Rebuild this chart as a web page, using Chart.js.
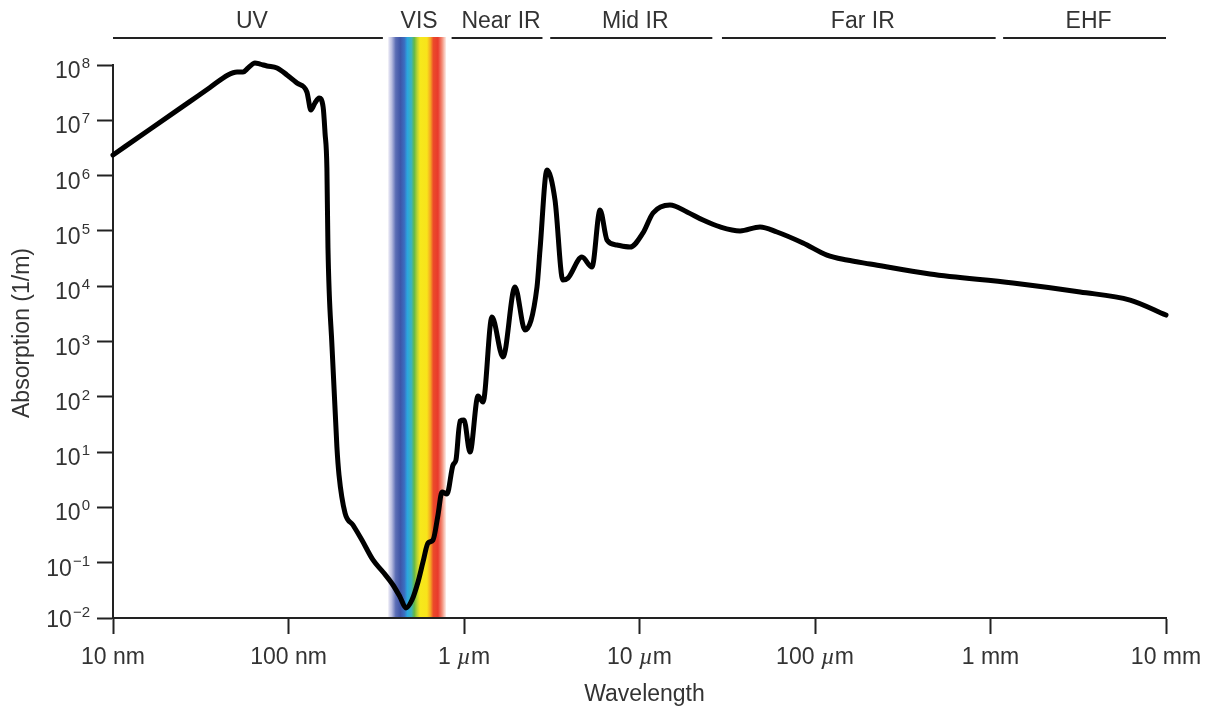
<!DOCTYPE html>
<html lang="en">
<head>
<meta charset="UTF-8">
<title>Absorption spectrum of liquid water</title>
<script src="https://cdn.jsdelivr.net/npm/chart.js"></script>
<style>
  body { margin: 0; background: #fff; }
  #wrap { width: 1217px; height: 713px; }
</style>
</head>
<body>
<div id="wrap"><canvas id="absChart" width="1217" height="713"></canvas></div>
<script>
// wavelength in metres, absorption in 1/m
const wavelength = [
  1.0e-8, 1.625e-8, 2.75e-8, 3.57e-8, 4.52e-8, 5.09e-8, 5.51e-8, 5.88e-8, 6.44e-8, 6.89e-8, 7.54e-8, 8.6e-8, 9.8e-8,
  1.117e-7, 1.273e-7, 1.342e-7, 1.416e-7, 1.494e-7, 1.575e-7, 1.615e-7, 1.655e-7, 1.678e-7, 1.77e-7,
  1.887e-7, 1.94e-7, 2.1e-7, 2.33e-7, 2.62e-7, 3.03e-7, 3.455e-7, 3.94e-7, 4.32e-7, 4.67e-7,
  5.05e-7, 5.47e-7, 5.84e-7, 6.24e-7, 6.66e-7, 7.11e-7, 7.49e-7, 8.0e-7, 8.66e-7, 9.0e-7,
  9.49e-7, 1.0e-6, 1.082e-6, 1.202e-6, 1.283e-6, 1.443e-6, 1.668e-6, 1.953e-6, 2.226e-6, 2.606e-6,
  2.71e-6, 2.97e-6, 3.30e-6, 3.66e-6, 3.91e-6, 4.70e-6, 5.36e-6, 5.96e-6, 6.53e-6, 7.44e-6,
  8.83e-6, 1.047e-5, 1.194e-5, 1.492e-5, 1.865e-5, 2.30e-5, 2.88e-5, 3.74e-5, 4.86e-5, 6.07e-5,
  8.54e-5, 1.17e-4, 1.52e-4, 2.06e-4, 4.52e-4, 1.343e-3, 3.24e-3, 6.24e-3, 1.0e-2
];
const absorption = [
  2.36e6, 6.87e6, 2.2e7, 3.92e7, 6.6e7, 7.47e7, 7.47e7, 8.83e7, 1.09e8, 1.04e8, 9.6e7, 8.83e7, 6.6e7,
  4.72e7, 3.25e7, 1.53e7, 2.06e7, 2.53e7, 1.74e7, 5.9e6, 1.37e6, 5.1e4, 796,
  12.4, 3.86, 0.79, 0.48, 0.257, 0.112, 0.068, 0.0395, 0.024, 0.0152,
  0.0211, 0.0448, 0.103, 0.227, 0.257, 0.73, 1.9, 1.75, 5.85, 7.2,
  36.5, 38, 10.0, 103, 80.5, 2770, 525, 9690, 1615, 9690,
  4.5e4, 1.26e6, 3.62e5, 1.29e4, 1.4e4, 3.37e4, 2.22e4, 2.39e5, 6.84e4, 5.56e4,
  5.1e4, 9.2e4, 2.11e5, 2.94e5, 2.2e5, 1.57e5, 1.18e5, 9.96e4, 1.18e5, 9.55e4,
  6.04e4, 3.66e4, 2.98e4, 2.52e4, 1.66e4, 1.14e4, 7850, 5620, 3010
];

const xTicks = [1e-8, 1e-7, 1e-6, 1e-5, 1e-4, 1e-3, 1e-2];
const xTickLabels = ['10 nm', '100 nm', '1 µm', '10 µm', '100 µm', '1 mm', '10 mm'];
const yTicks = [1e-2, 1e-1, 1e0, 1e1, 1e2, 1e3, 1e4, 1e5, 1e6, 1e7, 1e8];

// spectral regions along the top
const regionNames = ['UV', 'VIS', 'Near IR', 'Mid IR', 'Far IR', 'EHF'];
const regionStart = [1e-8, 3.7e-7, 8.5e-7, 3.1e-6, 2.95e-5, 1.18e-3];
const regionEnd = [3.45e-7, 7.9e-7, 2.8e-6, 2.6e-5, 1.07e-3, 1e-2];
const visBand = [3.7e-7, 7.9e-7];

const textColor = '#333';
const axisColor = '#222';
const FONT = '"Liberation Sans", Arial, sans-serif';

const decorations = {
  id: 'decorations',
  beforeDatasetsDraw(chart) {
    const { ctx, chartArea, scales: { x } } = chart;
    const x0 = x.getPixelForValue(visBand[0]);
    const x1 = x.getPixelForValue(visBand[1]);
    const top = chartArea.top - 28;
    const g = ctx.createLinearGradient(x0, 0, x1, 0);
    g.addColorStop(0.00, '#ecebf6');
    g.addColorStop(0.06, '#b9bde0');
    g.addColorStop(0.13, '#5b6db5');
    g.addColorStop(0.21, '#3e55a7');
    g.addColorStop(0.28, '#3b6fc2');
    g.addColorStop(0.33, '#2ba6df');
    g.addColorStop(0.40, '#3cb3bd');
    g.addColorStop(0.45, '#63b847');
    g.addColorStop(0.50, '#b7d332');
    g.addColorStop(0.55, '#f6e81c');
    g.addColorStop(0.67, '#f8e41a');
    g.addColorStop(0.73, '#f5a623');
    g.addColorStop(0.78, '#ec4a2a');
    g.addColorStop(0.86, '#e83a2c');
    g.addColorStop(0.93, '#f38b75');
    g.addColorStop(1.00, '#fdeee8');
    ctx.save();
    ctx.fillStyle = g;
    ctx.fillRect(x0, top, x1 - x0, chartArea.bottom - 1 - top);
    ctx.restore();
  },
  afterDraw(chart) {
    const { ctx, chartArea, scales: { x, y } } = chart;
    ctx.save();
    ctx.fillStyle = textColor;

    // region brackets + names
    const lineY = chartArea.top - 27;
    ctx.strokeStyle = axisColor;
    ctx.lineWidth = 2;
    regionNames.forEach((name, i) => {
      const a = x.getPixelForValue(regionStart[i]);
      const b = x.getPixelForValue(regionEnd[i]);
      if (name !== 'VIS') {
        ctx.beginPath();
        ctx.moveTo(a, lineY);
        ctx.lineTo(b, lineY);
        ctx.stroke();
      }
      ctx.font = '23px ' + FONT;
      ctx.textAlign = 'center';
      ctx.textBaseline = 'middle';
      ctx.fillText(name, (a + b) / 2 + (name === 'VIS' ? 2 : 4), chartArea.top - 43);
    });

    // y tick labels as 10 with superscript exponent
    ctx.textAlign = 'right';
    ctx.textBaseline = 'alphabetic';
    const labelRight = chartArea.left - 23;
    yTicks.forEach((v, i) => {
      const py = y.getPixelForValue(v);
      const exp = Math.round(Math.log10(v));
      const expText = exp < 0 ? '\u2212' + (-exp) : String(exp);
      const base = py + (i === 0 ? 9 : 13);
      ctx.font = '15px ' + FONT;
      const ew = ctx.measureText(expText).width;
      ctx.fillText(expText, labelRight, base - 10);
      ctx.font = '23px ' + FONT;
      ctx.fillText('10', labelRight - ew - 1, base);
    });

    // x tick labels, µ in italics
    ctx.textAlign = 'left';
    xTicks.forEach((v, i) => {
      const px = x.getPixelForValue(v);
      const parts = xTickLabels[i].split('µ');
      const pieces = [];
      parts.forEach((p, k) => {
        if (k > 0) pieces.push({ t: 'µ', f: 'italic 24px "Liberation Serif", serif' });
        if (p) pieces.push({ t: p, f: '23px ' + FONT });
      });
      let w = 0;
      pieces.forEach(p => { ctx.font = p.f; p.w = ctx.measureText(p.t).width; w += p.w; });
      let cx = px - w / 2;
      pieces.forEach(p => {
        ctx.font = p.f;
        ctx.fillText(p.t, cx, chartArea.bottom + 46);
        cx += p.w;
      });
    });

    // axis titles
    ctx.font = '23px ' + FONT;
    ctx.textAlign = 'center';
    ctx.fillText('Wavelength', (chartArea.left + chartArea.right) / 2 + 5, 701);
    ctx.translate(29, 333);
    ctx.rotate(-Math.PI / 2);
    ctx.fillText('Absorption (1/m)', 0, 0);
    ctx.restore();
  }
};

const points = wavelength.map((w, i) => ({ x: w, y: absorption[i] }));

new Chart(document.getElementById('absChart').getContext('2d'), {
  type: 'line',
  data: {
    datasets: [{
      data: points,
      borderColor: '#000',
      borderWidth: 5,
      pointRadius: 0,
      fill: false,
      cubicInterpolationMode: 'monotone',
      borderJoinStyle: 'round',
      borderCapStyle: 'round',
      clip: false
    }]
  },
  options: {
    responsive: false,
    animation: false,
    layout: { padding: { left: 0, right: 51, top: 65, bottom: 0 } },
    plugins: { legend: { display: false }, tooltip: { enabled: false } },
    scales: {
      x: {
        type: 'logarithmic',
        min: 1e-8,
        max: 1e-2,
        afterBuildTicks: s => { s.ticks = xTicks.map(v => ({ value: v })); },
        afterFit: s => { s.height = 95; },
        ticks: { display: false },
        grid: { drawOnChartArea: false, drawTicks: true, tickLength: 16, tickWidth: 2, tickColor: axisColor },
        border: { display: true, color: axisColor, width: 2 }
      },
      y: {
        type: 'logarithmic',
        min: 1e-2,
        max: 1e8,
        afterBuildTicks: s => { s.ticks = yTicks.map(v => ({ value: v })); },
        afterFit: s => { s.width = 113; },
        ticks: { display: false },
        grid: { drawOnChartArea: false, drawTicks: true, tickLength: 16, tickWidth: 2, tickColor: axisColor },
        border: { display: true, color: axisColor, width: 2 }
      }
    }
  },
  plugins: [decorations]
});
</script>
</body>
</html>
